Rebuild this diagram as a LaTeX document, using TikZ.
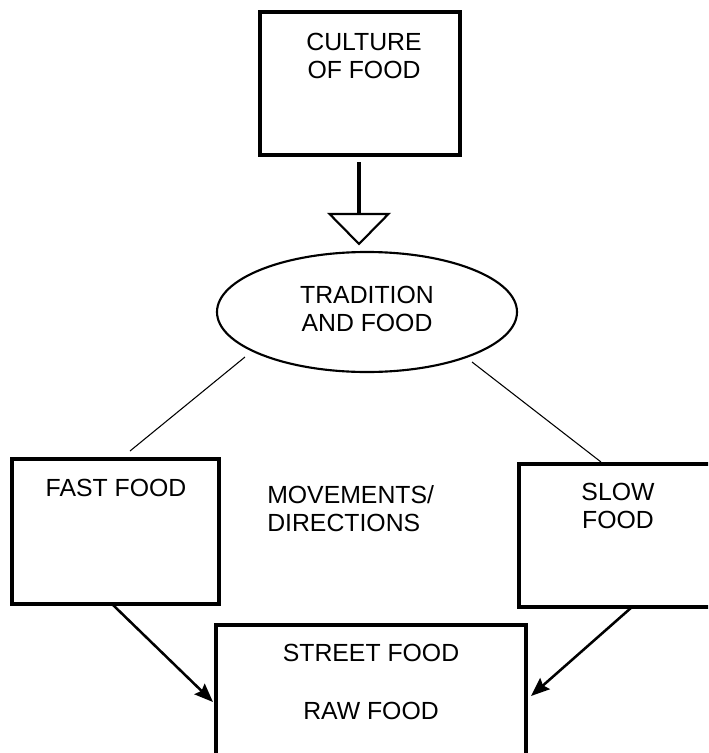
\documentclass[tikz,border=0pt]{standalone}
\usepackage{fontspec}
\setmainfont{Liberation Sans}
\usetikzlibrary{calc,shapes.geometric,arrows.meta}
\begin{document}
\begin{tikzpicture}[x=0.75pt,y=-0.75pt,
  lbl/.style={font=\fontsize{18.6pt}{21pt}\selectfont, align=center, inner sep=0pt, text=black},
  boxframe/.style={draw, line width=2.3pt, inner sep=0pt, outer sep=0pt},
  thinline/.style={line width=0.8pt},
  arr/.style={line width=1.9pt, -{Stealth[length=14pt,width=11pt,inset=2pt]}}
]
\useasboundingbox (0,0) rectangle (708,753);
\clip (0,0) rectangle (708,753);
% boxes
\node[boxframe, minimum width=200*0.75pt, minimum height=143*0.75pt] (culture) at (360,83.5) {};
\node[boxframe, minimum width=207*0.75pt, minimum height=145*0.75pt] (fast) at (115.5,531.5) {};
\node[boxframe, minimum width=210*0.75pt, minimum height=143*0.75pt] (slow) at (624,535.5) {};
\node[boxframe, minimum width=310*0.75pt, minimum height=200*0.75pt] (street) at (371,725) {};
\node[draw, ellipse, line width=1.6pt, minimum width=300*0.75pt, minimum height=120*0.75pt, inner sep=0pt] (trad) at (367,312) {};
% texts
\node[lbl] (tculture) at (364,56) {CULTURE\\OF FOOD};
\node[lbl] (ttrad) at (367,308.5) {TRADITION\\AND FOOD};
\node[lbl] (tfast) at (116,488) {FAST FOOD};
\node[lbl, anchor=west, align=left] (tmov) at (267,508.5) {MOVEMENTS/\\DIRECTIONS};
\node[lbl] (tslow) at (618,506) {SLOW\\FOOD};
\node[lbl] (tstreet) at (371,653) {STREET FOOD};
\node[lbl] (traw) at (371,711) {RAW FOOD};
% hollow arrow from culture to tradition
\coordinate (ha) at ($(culture.south)+(-1,7)$);
\coordinate (hb) at ($(trad.north)+(-8,-37)$);
\draw[line width=2.3pt] (ha) -- (hb);
\draw[line width=1.6pt, line join=miter] ($(hb)+(-29.5,0)$) -- ($(hb)+(29.5,0)$) -- ($(hb)+(0,30)$) -- cycle;
% thin lines
\coordinate (l1) at (245,357);
\coordinate (l2) at (130,451);
\coordinate (r1) at (472,362);
\coordinate (r2) at (601,462);
\draw[thinline] (l1) -- (l2);
\draw[thinline] (r1) -- (r2);
% arrows to street
\draw[arr] ($(fast.south)+(-3.5,0)$) -- ($(street.north west)+(-3,77)$);
\draw[arr] ($(slow.south west)+(113,0)$) -- ($(street.north east)+(5,71)$);
\end{tikzpicture}
\end{document}
